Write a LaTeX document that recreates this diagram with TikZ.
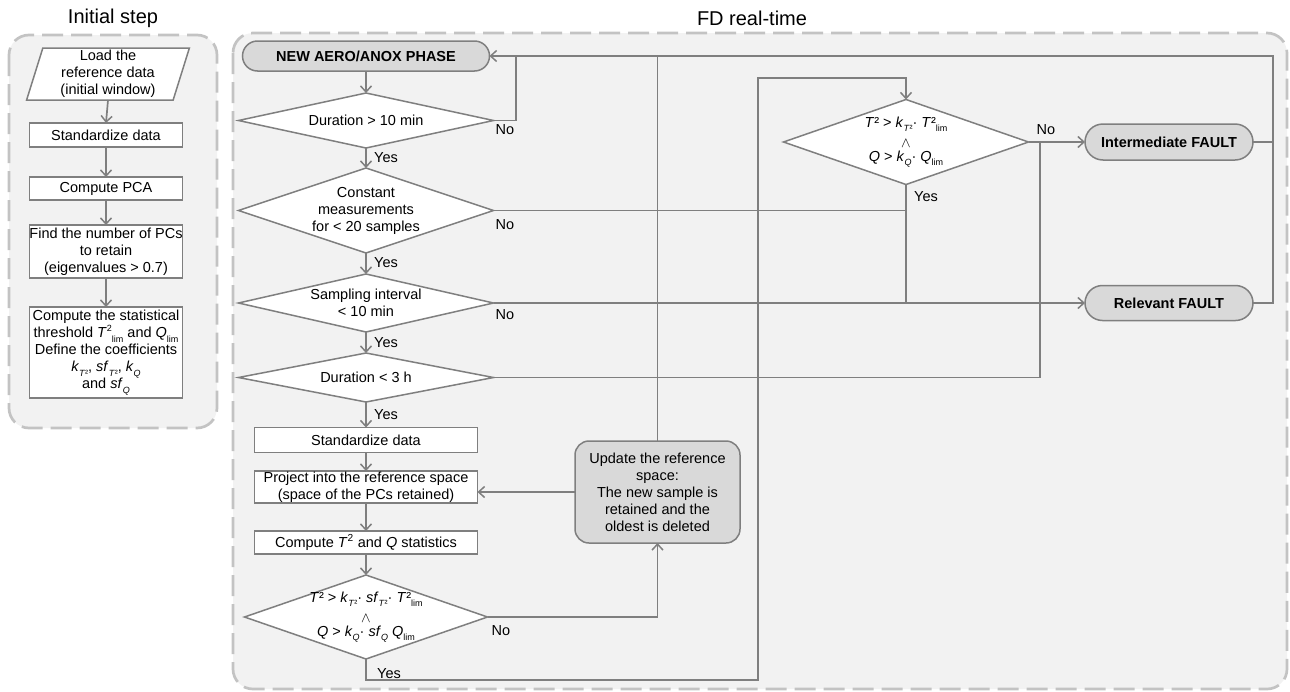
\documentclass[tikz,border=0pt]{standalone}
\usepackage{fontspec}
\setmainfont{Liberation Sans}
\usetikzlibrary{arrows.meta,shapes.geometric,shapes.misc}
\definecolor{lc}{HTML}{7F7F7F}
\definecolor{pfill}{HTML}{F2F2F2}
\definecolor{pborder}{HTML}{C3C3C3}
\definecolor{sfill}{HTML}{D9D9D9}
\newcommand{\mysup}[1]{\raisebox{0.42em}{\fontsize{9}{9}\selectfont #1}}
\newcommand{\mysub}[1]{\raisebox{-0.3em}{\fontsize{9}{9}\selectfont #1}}
\newcommand{\myand}{\raisebox{0pt}[8pt][0pt]{$\wedge$}}
\begin{document}
\begin{tikzpicture}[x=1pt,y=-1pt,
  every node/.style={font=\fontsize{14.5}{17}\selectfont, inner sep=0pt, outer sep=0pt, align=center},
  panel/.style={draw=pborder, fill=pfill, line width=2.7pt, dash pattern=on 21pt off 8pt, rounded corners=20pt},
  ttl/.style={font=\fontsize{20}{24}\selectfont},
  box/.style={rectangle, draw=lc, fill=white, line width=1.5pt},
  dia/.style={diamond, draw=lc, fill=white, line width=1.5pt},
  stad/.style={rounded rectangle, draw=lc, fill=sfill, line width=1.5pt, font=\fontsize{14.5}{17}\selectfont\bfseries},
  updbox/.style={rectangle, rounded corners=14pt, draw=lc, fill=sfill, line width=1.5pt},
  conn/.style={draw=lc, line width=1.7pt},
  arr/.style={conn, -{Straight Barb[length=6pt,width=11pt,line width=1.5pt]}},
  lbl/.style={font=\fontsize{14.5}{17}\selectfont}
]
\useasboundingbox (0,0) rectangle (1290,691);
% panels
\draw[panel] (9,35) rectangle (217,428);
\draw[panel] (233,33) rectangle (1287,689);
\node[ttl] (t1) at (113,18) {Initial step};
\node[ttl] (t2) at (752,18) {FD real-time};

% initial step
\node[trapezium, trapezium left angle=76, trapezium right angle=104, trapezium stretches=true,
      draw=lc, fill=white, line width=1.5pt, minimum width=163pt, minimum height=52pt] (load) at (108,74)
      {Load the\\reference data\\(initial window)};
\node[box, minimum width=153pt, minimum height=24pt] (std1) at (106,135) {Standardize data};
\node[box, minimum width=153pt, minimum height=23pt] (pca) at (106,188.5) {Compute PCA};
\node[box, minimum width=153pt, minimum height=53pt] (find) at (106,251.5)
      {Find the number of PCs\\to retain\\(eigenvalues > 0.7)};
\node[box, minimum width=153pt, minimum height=91pt] (stat) at (106,352.5)
      {Compute the statistical\\threshold \textit{T}\mysup{2}\mysub{lim} and \textit{Q}\mysub{lim}\\Define the coefficients\\
       \textit{k}\mysub{\textit{T}²}, \textit{sf}\mysub{\textit{T}²}, \textit{k}\mysub{\textit{Q}}\\and \textit{sf}\mysub{\textit{Q}}};
\draw[arr] (load.south) -- (std1.north);
\draw[arr] (std1.south) -- (pca.north);
\draw[arr] (pca.south) -- (find.north);
\draw[arr] (find.south) -- (stat.north);

% FD real-time
\node[stad, minimum width=247pt, minimum height=30pt] (new) at (366,56) {NEW AERO/ANOX PHASE};
\node[dia, minimum width=255pt, minimum height=55pt, shape aspect=4.6] (d1) at (366,120.5) {Duration > 10 min};
\node[dia, minimum width=255pt, minimum height=85pt, shape aspect=3] (d2) at (366,210.5)
      {Constant\\measurements\\for < 20 samples};
\node[dia, minimum width=255pt, minimum height=58pt, shape aspect=4.4] (d3) at (366,303)
      {Sampling interval\\< 10 min};
\node[dia, minimum width=255pt, minimum height=49pt, shape aspect=5.2] (d4) at (366,377.5) {Duration < 3 h};
\node[box, minimum width=223pt, minimum height=25pt] (sstd) at (366,440) {Standardize data};
\node[box, minimum width=223pt, minimum height=32pt] (proj) at (366,487)
      {Project into the reference space\\(space of the PCs retained)};
\node[box, minimum width=223pt, minimum height=23pt] (comp) at (366,542.5)
      {Compute \textit{T}\textsuperscript{2} and \textit{Q} statistics};
\node[dia, minimum width=243pt, minimum height=84pt, shape aspect=2.9, inner sep=-8pt] (d5) at (366,617)
      {\textit{T}² > \textit{k}\mysub{\textit{T}²}· \textit{sf}\mysub{\textit{T}²}· \textit{T}²\mysub{lim}\\[3pt]
       \myand\\[-3pt]\textit{Q} > \textit{k}\mysub{\textit{Q}}· \textit{sf}\mysub{\textit{Q}} \textit{Q}\mysub{lim}};
\node[updbox, minimum width=165pt, minimum height=102pt] (upd) at (657.5,492)
      {Update the reference\\space:\\The new sample is\\retained and the\\oldest is deleted};
\node[dia, minimum width=245pt, minimum height=85pt, shape aspect=2.9, inner sep=-8pt] (d6) at (906,142)
      {\textit{T}² > \textit{k}\mysub{\textit{T}²}· \textit{T}²\mysub{lim}\\[3pt]
       \myand\\[-3pt]\textit{Q} > \textit{k}\mysub{\textit{Q}}· \textit{Q}\mysub{lim}};
\node[stad, minimum width=168pt, minimum height=36pt] (inter) at (1169,142) {Intermediate FAULT};
\node[stad, minimum width=168pt, minimum height=35pt] (relev) at (1169,303) {Relevant FAULT};

% helper coordinates
\coordinate (topR) at (1273,56);
\coordinate (j1) at (516,56);
\coordinate (ybot) at (366,680);
\coordinate (ytop) at (758,78);
\coordinate (xj) at (1040,142);

% main column
\draw[arr] (new.south) -- (d1.north);
\draw[arr] (d1.south) -- (d2.north);
\draw[arr] (d2.south) -- (d3.north);
\draw[arr] (d3.south) -- (d4.north);
\draw[arr] (d4.south) -- (sstd.north);
\draw[arr] (sstd.south) -- (proj.north);
\draw[arr] (proj.south) -- (comp.north);
\draw[arr] (comp.south) -- (d5.north);

% returns
\draw[conn] (d1.east) -| (j1);
\draw[conn] (upd.north) -- (upd.north |- new.east);
\draw[arr] (relev.east) -| (topR) -- (new.east);
\draw[conn] (inter.east) -- (inter.east -| topR);
\draw[arr] (upd.west) -- (upd.west -| proj.east);
\draw[arr] (d5.east) -| (upd.south);
\draw[arr] (d5.south) -- (ybot) -| (ytop) -| (d6.north);
\draw[conn] (d2.east) -- (d2.east -| d6.south);
\draw[conn] (d6.south) -- (d6.south |- relev.west);
\draw[arr] (d3.east) -- (relev.west);
\draw[arr] (d6.east) -- (inter.west);
\draw[conn] (d4.east) -| (xj);

% labels
\node[lbl] (n1) at (505,130) {No};
\node[lbl] (n2) at (505,225) {No};
\node[lbl] (n3) at (505,315) {No};
\node[lbl] (n5) at (501,631) {No};
\node[lbl] (n6) at (1046,130) {No};
\node[lbl] (y1) at (386,158) {Yes};
\node[lbl] (y2) at (386,263) {Yes};
\node[lbl] (y3) at (386,343) {Yes};
\node[lbl] (y4) at (386,415) {Yes};
\node[lbl] (y5) at (389,674) {Yes};
\node[lbl] (y6) at (926,197) {Yes};
\end{tikzpicture}
\end{document}
